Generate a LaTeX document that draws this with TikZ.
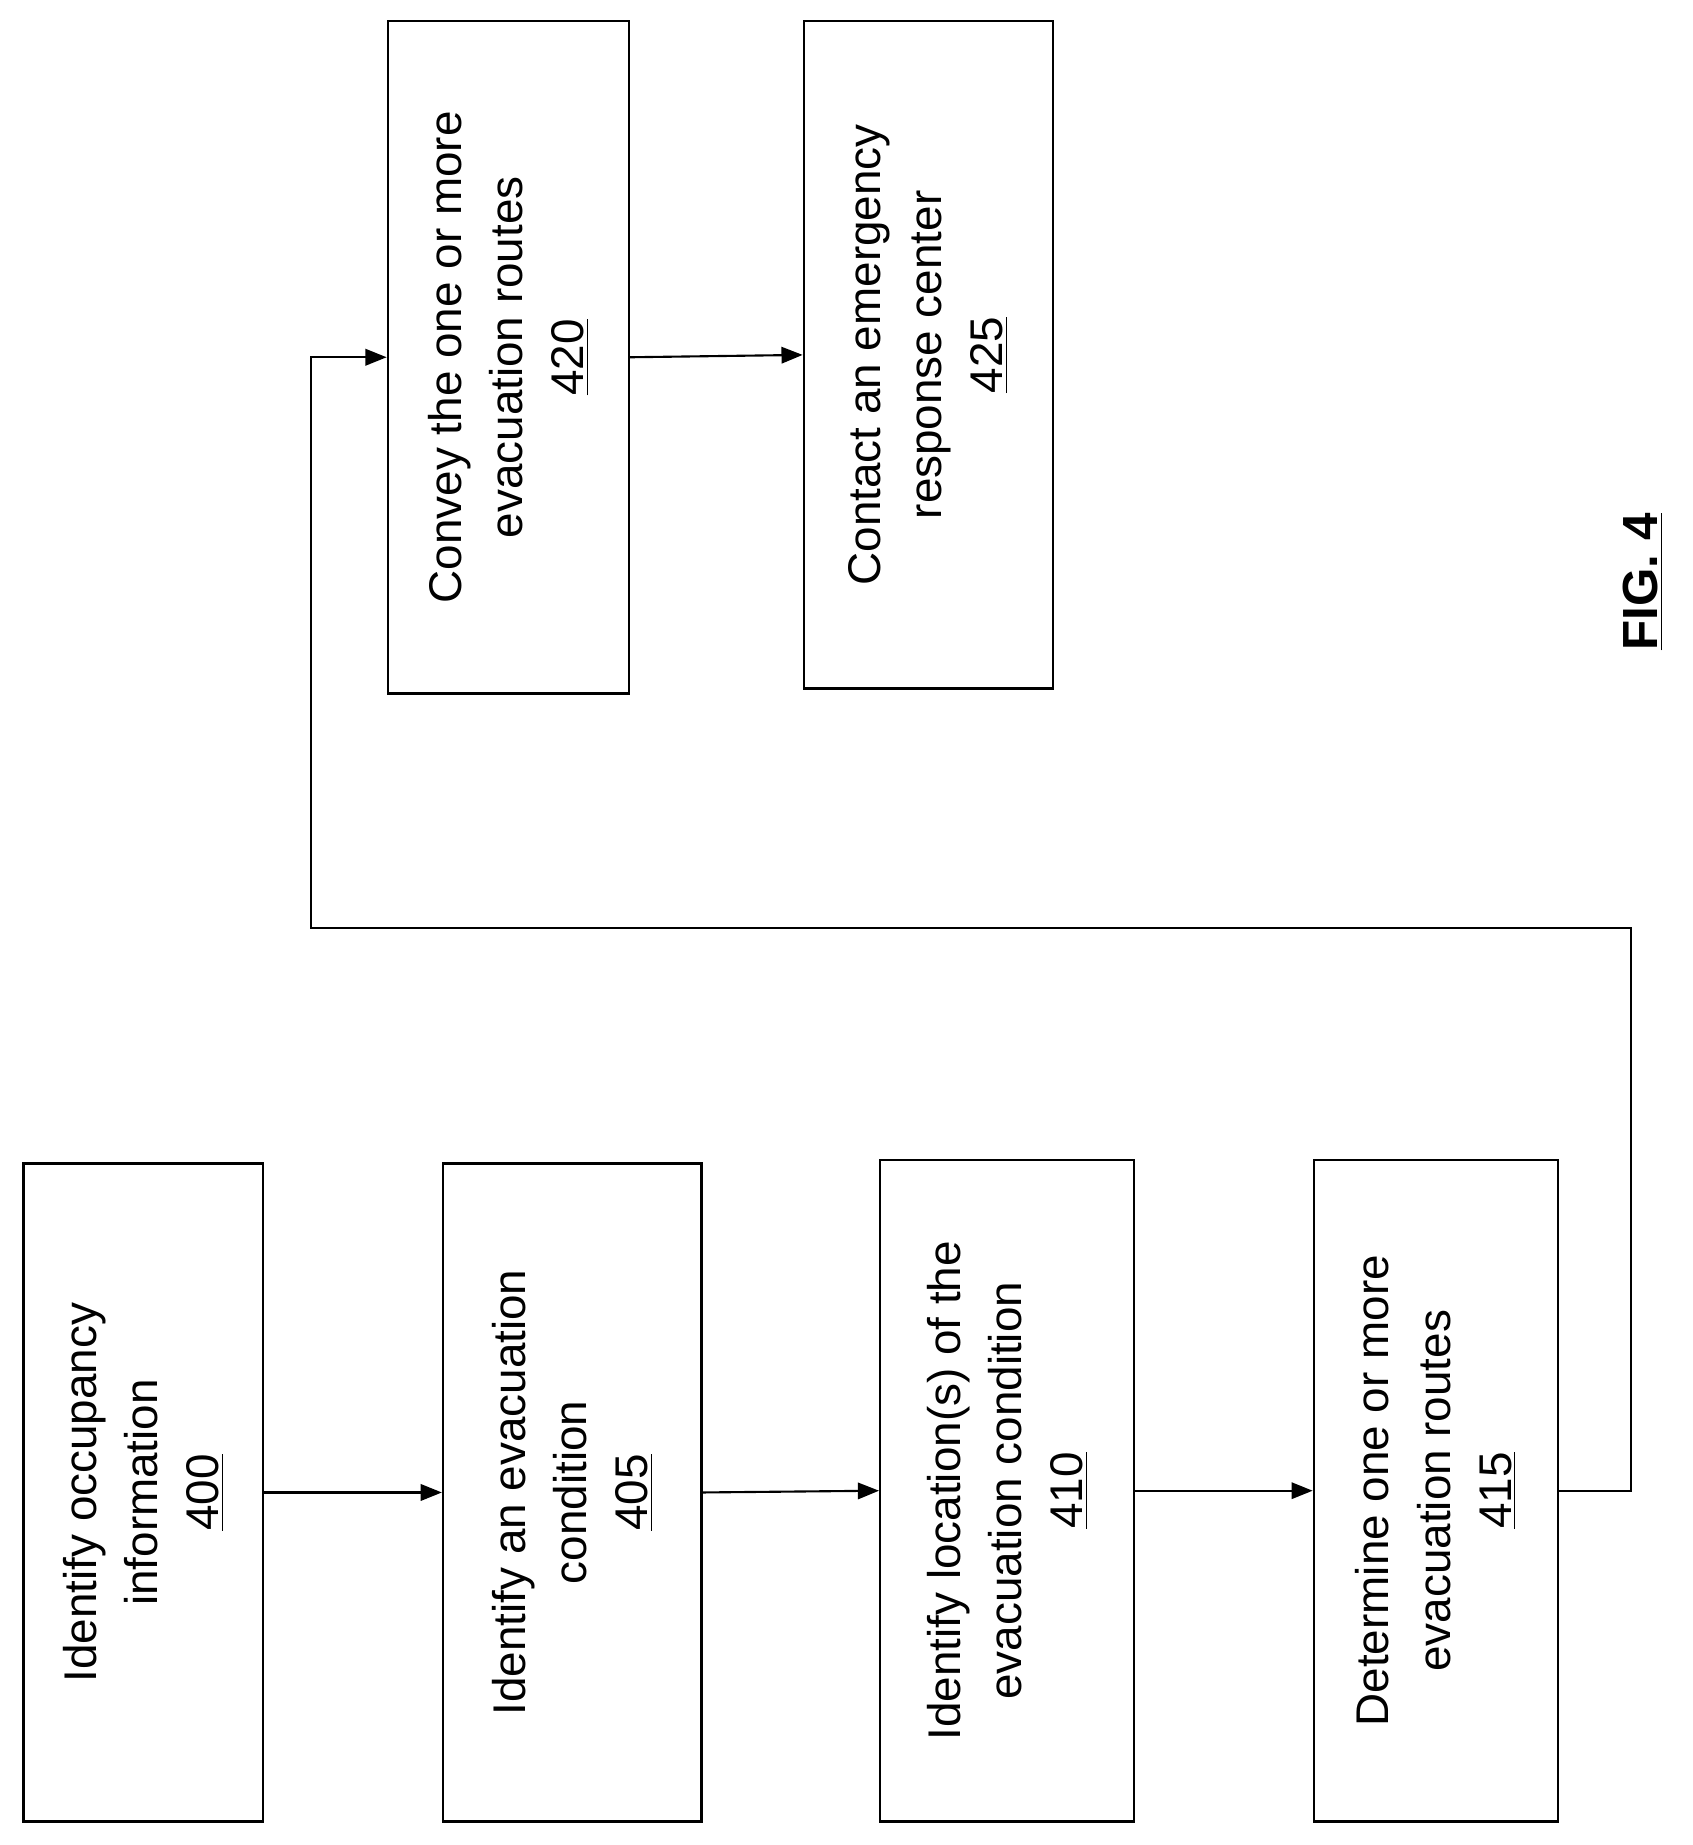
\documentclass[tikz,border=0pt]{standalone}
\usepackage{fontspec}
\setmainfont{Liberation Sans}
\usetikzlibrary{arrows.meta}
\begin{document}
\begin{tikzpicture}[x=0.5pt,y=0.5pt,
  box/.style={draw,line width=1pt,rotate=90,align=center,inner sep=2pt,
    font=\fontsize{19.5}{26}\selectfont},
  arr/.style={line width=0.9pt,-{Triangle[length=9pt,width=7pt]}}]
\useasboundingbox (0,0) rectangle (1440,-1570);
\node[box,minimum width=280pt,minimum height=102pt] (b400) at (122,-1270) {Identify occupancy\\information\\\underline{400}};
\node[box,minimum width=280pt,minimum height=110pt] (b405) at (487,-1270) {Identify an evacuation\\condition\\\underline{405}};
\node[box,minimum width=281.5pt,minimum height=108pt] (b410) at (857,-1268.5) {Identify location(s) of the\\evacuation condition\\\underline{410}};
\node[box,minimum width=281.5pt,minimum height=104pt] (b415) at (1222,-1268.5) {Determine one or more\\evacuation routes\\\underline{415}};
\node[box,minimum width=286pt,minimum height=102.5pt] (b420) at (432.5,-304) {Convey the one or more\\evacuation routes\\\underline{420}};
\node[box,minimum width=284pt,minimum height=106pt] (b425) at (790,-302) {Contact an emergency\\response center\\\underline{425}};
\node[rotate=90,font=\fontsize{21}{25}\selectfont\bfseries] (fig) at (1398,-495) {\underline{FIG. 4}};
\coordinate (c1) at (1388,-790);
\coordinate (c2) at (265,-790);
\draw[arr] (b400.south) -- (b405.north);
\draw[arr] (b405.south) -- (b410.north);
\draw[arr] (b410.south) -- (b415.north);
\draw[arr] (b415.south) -| (c1) -- (c2) |- (b420.north);
\draw[arr] (b420.south) -- (b425.north);
\end{tikzpicture}
\end{document}
